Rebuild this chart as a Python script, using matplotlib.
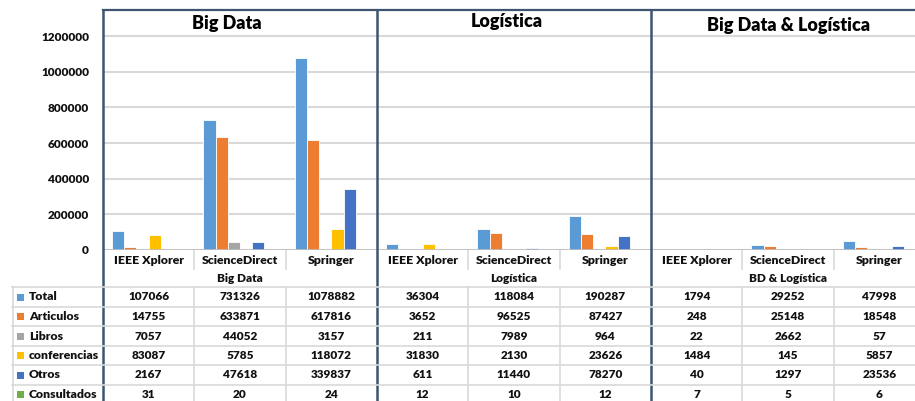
import matplotlib
matplotlib.use("Agg")
import matplotlib.pyplot as plt
import matplotlib.transforms as mtransforms
from matplotlib.patches import Rectangle
import numpy as np

plt.rcParams['font.family'] = ['Lato', 'DejaVu Sans']

# ---------------- data ----------------
groups = ["Big Data", "Logística", "Big Data & Logística"]
group_table_labels = ["Big Data", "Logística", "BD & Logística"]
sources = ["IEEE Xplorer", "ScienceDirect", "Springer"]
series_names = ["Total", "Articulos", "Libros", "conferencias", "Otros", "Consultados"]

total        = [107066, 731326, 1078882, 36304, 118084, 190287, 1794, 29252, 47998]
articulos    = [14755, 633871, 617816, 3652, 96525, 87427, 248, 25148, 18548]
libros       = [7057, 44052, 3157, 211, 7989, 964, 22, 2662, 57]
conferencias = [83087, 5785, 118072, 31830, 2130, 23626, 1484, 145, 5857]
otros        = [2167, 47618, 339837, 611, 11440, 78270, 40, 1297, 23536]
consultados  = [31, 20, 24, 12, 10, 12, 7, 5, 6]

yticks = [0, 200000, 400000, 600000, 800000, 1000000, 1200000]

series = [total, articulos, libros, conferencias, otros, consultados]
colors = ["#5B9BD5", "#ED7D31", "#A5A5A5", "#FFC000", "#4472C4", "#70AD47"]

# ---------------- figure ----------------
W, H = 915, 401
fig = plt.figure(figsize=(W / 100, H / 100), dpi=100)

ax_left, ax_right, ax_top, ax_zero = 103, 925, 10, 250
ax = fig.add_axes([ax_left / W, (H - ax_zero) / H,
                   (ax_right - ax_left) / W, (ax_zero - ax_top) / H])

ncat = len(total)
x = np.arange(ncat)
nser = len(series)
bw = 1.0 / (nser + 1.5)
for i, (vals, c) in enumerate(zip(series, colors)):
    offs = (i - (nser - 1) / 2) * bw
    ax.bar(x + 0.5 + offs, vals, width=bw, color=c, edgecolor="white",
           linewidth=0.6, zorder=3)

WEIGHT = "heavy"
TXT = "#111111"

ax.set_xlim(0, ncat)
ax.set_ylim(0, 1.346e6)
ax.set_yticks(yticks)
ax.set_yticklabels([str(v) for v in yticks], fontsize=8.5, fontweight=WEIGHT,
                   color=TXT)
ax.tick_params(axis="y", length=0, pad=10)
ax.set_xticks([])
ax.yaxis.grid(True, color="#D9D9D9", linewidth=1.5, zorder=0)
ax.set_axisbelow(True)
for s in ["right", "bottom"]:
    ax.spines[s].set_visible(False)
dark = "#3E5570"
ax.spines["top"].set_color(dark)
ax.spines["top"].set_linewidth(1.6)
ax.spines["left"].set_visible(False)

# zero line
ax.axhline(0, color="#BFBFBF", linewidth=1.2, zorder=4)

ax_h = ax_zero - ax_top


def ay(ypx):
    """pixel row (from top) -> axes fraction"""
    return (ax_zero - ypx) / ax_h


trans = mtransforms.blended_transform_factory(ax.transData, ax.transAxes)
light = "#D9D9D9"

# group titles
title_pos = [(1.36, 23), (4.42, 21), (7.51, 26)]
for g, (gx, gy) in zip(groups, title_pos):
    ax.text(gx, ay(gy), g, transform=trans, ha="center", va="center",
            fontsize=13, fontweight=WEIGHT, color="#000000")

# category labels
for i in range(ncat):
    ax.text(i + 0.5, ay(260), sources[i % 3], transform=trans, ha="center",
            va="center", fontsize=8.8, fontweight=WEIGHT, color=TXT)
# group labels under categories
for gi, gl in enumerate(group_table_labels):
    ax.text(gi * 3 + 1.5, ay(278.5), gl, transform=trans, ha="center",
            va="center", fontsize=8.5, fontweight=WEIGHT, color=TXT)

# category tick separators
for b in [1, 2, 4, 5, 7, 8]:
    ax.plot([b, b], [ay(250), ay(269)], transform=trans, color=light,
            linewidth=1.2, clip_on=False, zorder=2)

# table
row_lines = [287, 307, 326, 346, 365, 385, 404]
row_centers = [(row_lines[k] + row_lines[k + 1]) / 2 for k in range(6)]
for yl in row_lines:
    fig.add_artist(plt.Line2D([12 / W, 1], [(H - yl) / H] * 2, color=light,
                              linewidth=1.2, zorder=1))
fig.add_artist(plt.Line2D([12.5 / W] * 2, [(H - 287) / H, 0], color=light,
                          linewidth=1.2))
for b in [1, 2, 4, 5, 7, 8]:
    ax.plot([b, b], [ay(287), ay(H + 5)], transform=trans, color=light,
            linewidth=1.2, clip_on=False, zorder=2)

for r, (vals, c, name) in enumerate(zip(series, colors, series_names)):
    yc = row_centers[r]
    fig.add_artist(Rectangle((17 / W, (H - yc - 3.5) / H), 7 / W, 7 / H,
                             facecolor=c, edgecolor="none"))
    fig.text(29 / W, (H - yc) / H, name, ha="left", va="center",
             fontsize=8.8, fontweight=WEIGHT, color=TXT)
    for i, v in enumerate(vals):
        ax.text(i + 0.5, ay(yc), str(v), transform=trans, ha="center",
                va="center", fontsize=8.5, fontweight=WEIGHT, color=TXT)

# dark separators
for b in [0, 3, 6]:
    ax.plot([b, b], [1, ay(H + 5)], transform=trans, color=dark,
            linewidth=1.8, clip_on=False, zorder=5)

fig.savefig("out.png", dpi=100)
